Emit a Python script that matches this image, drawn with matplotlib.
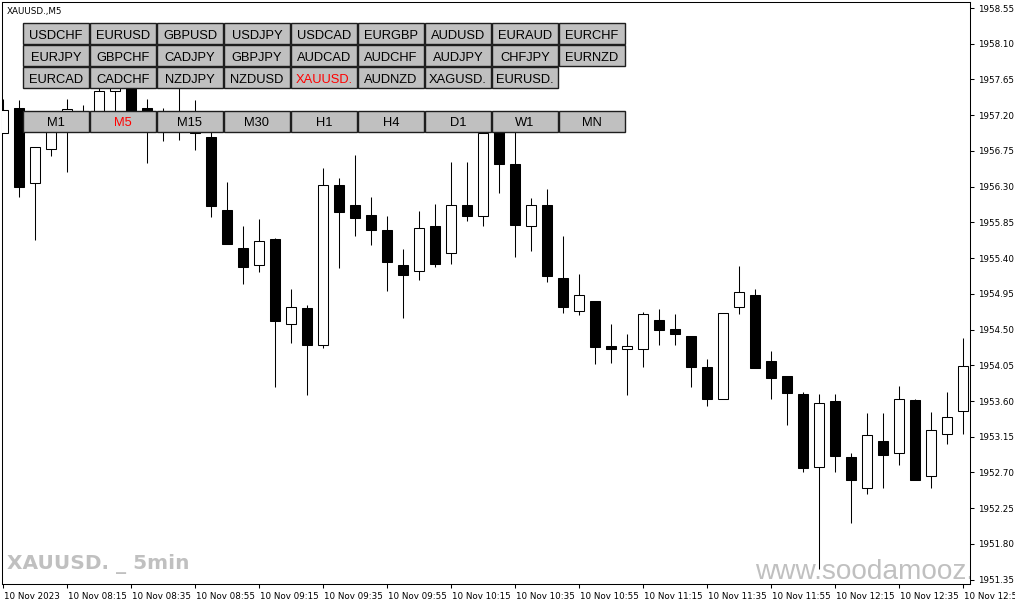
import matplotlib
matplotlib.use('Agg')
import matplotlib.pyplot as plt
from matplotlib.patches import Rectangle
from matplotlib.transforms import ScaledTranslation
from matplotlib import font_manager

# 5 minute candles, XAUUSD., 10 Nov 2023 (left to right)
opens = [1956.98, 1957.29, 1956.35, 1956.78, 1957.16, 1957.23, 1957.19, 1957.51, 1957.90, 1957.29,
         1957.09, 1957.19, 1957.09, 1956.93, 1956.01, 1955.53, 1955.31, 1955.64, 1954.57, 1954.77,
         1954.31, 1956.32, 1956.07, 1955.94, 1955.75, 1955.31, 1955.24, 1955.81, 1955.47, 1956.07,
         1955.93, 1957.08, 1956.58, 1955.81, 1956.07, 1955.15, 1954.73, 1954.86, 1954.29, 1954.26,
         1954.26, 1954.62, 1954.51, 1954.42, 1954.03, 1953.62, 1954.78, 1954.94, 1954.10, 1953.92,
         1953.69, 1952.77, 1953.60, 1952.90, 1952.50, 1953.10, 1952.94, 1953.61, 1952.66, 1953.19,
         1953.48]
highs = [1957.41, 1957.39, 1956.80, 1957.14, 1957.41, 1957.33, 1957.54, 1957.69, 1958.08, 1957.40,
         1957.29, 1957.59, 1957.39, 1957.04, 1956.36, 1955.80, 1955.89, 1955.65, 1955.01, 1954.81,
         1956.54, 1956.41, 1956.70, 1956.17, 1955.93, 1955.52, 1955.99, 1956.08, 1956.61, 1956.61,
         1957.04, 1957.16, 1957.11, 1956.16, 1956.27, 1955.68, 1955.20, 1954.86, 1954.57, 1954.45,
         1954.72, 1954.76, 1954.70, 1954.42, 1954.13, 1954.71, 1955.30, 1955.01, 1954.23, 1953.92,
         1953.71, 1953.69, 1953.69, 1952.95, 1953.45, 1953.45, 1953.79, 1953.63, 1953.46, 1953.71,
         1954.40]
lows = [1956.97, 1956.17, 1955.63, 1956.68, 1956.49, 1957.05, 1957.14, 1957.16, 1957.11, 1956.60,
        1956.88, 1956.89, 1956.76, 1955.92, 1955.58, 1955.07, 1955.22, 1953.78, 1954.33, 1953.68,
        1954.27, 1955.27, 1955.68, 1955.57, 1954.99, 1954.65, 1955.12, 1955.29, 1955.33, 1955.87,
        1955.80, 1956.22, 1955.41, 1955.49, 1955.10, 1954.71, 1954.68, 1954.07, 1954.08, 1953.67,
        1954.03, 1954.31, 1954.31, 1953.78, 1953.54, 1953.62, 1954.70, 1954.01, 1953.63, 1953.30,
        1952.71, 1951.49, 1952.70, 1952.07, 1952.43, 1952.51, 1952.79, 1952.60, 1952.51, 1953.06,
        1953.19]
closes = [1957.27, 1956.30, 1956.80, 1957.08, 1957.28, 1957.11, 1957.50, 1957.62, 1957.19, 1957.21,
          1957.19, 1957.09, 1956.98, 1956.06, 1955.58, 1955.29, 1955.62, 1954.61, 1954.79, 1954.31,
          1956.32, 1955.98, 1955.91, 1955.75, 1955.35, 1955.19, 1955.78, 1955.33, 1956.07, 1955.93,
          1956.98, 1956.58, 1955.82, 1956.07, 1955.17, 1954.78, 1954.93, 1954.28, 1954.25, 1954.29,
          1954.69, 1954.49, 1954.44, 1954.03, 1953.63, 1954.71, 1954.97, 1954.01, 1953.89, 1953.70,
          1952.76, 1953.58, 1952.91, 1952.61, 1953.17, 1952.92, 1953.62, 1952.60, 1953.24, 1953.40,
          1954.04]

time_labels = ['10 Nov 2023', '10 Nov 08:15', '10 Nov 08:35', '10 Nov 08:55', '10 Nov 09:15',
               '10 Nov 09:35', '10 Nov 09:55', '10 Nov 10:15', '10 Nov 10:35', '10 Nov 10:55',
               '10 Nov 11:15', '10 Nov 11:35', '10 Nov 11:55', '10 Nov 12:15', '10 Nov 12:35',
               '10 Nov 12:55']
price_ticks = [1958.55, 1958.10, 1957.65, 1957.20, 1956.75, 1956.30, 1955.85, 1955.40, 1954.95,
               1954.50, 1954.05, 1953.60, 1953.15, 1952.70, 1952.25, 1951.80, 1951.35]

symbols = [['USDCHF', 'EURUSD', 'GBPUSD', 'USDJPY', 'USDCAD', 'EURGBP', 'AUDUSD', 'EURAUD', 'EURCHF'],
           ['EURJPY', 'GBPCHF', 'CADJPY', 'GBPJPY', 'AUDCAD', 'AUDCHF', 'AUDJPY', 'CHFJPY', 'EURNZD'],
           ['EURCAD', 'CADCHF', 'NZDJPY', 'NZDUSD', 'XAUUSD.', 'AUDNZD', 'XAGUSD.', 'EURUSD.']]
timeframes = ['M1', 'M5', 'M15', 'M30', 'H1', 'H4', 'D1', 'W1', 'MN']
active = ['XAUUSD.', 'M5']

W, H = 1015, 605
fig = plt.figure(figsize=(W / 100, H / 100), dpi=100, facecolor='white')
ax = fig.add_axes([2 / W, (H - 584) / H, 968 / W, 582 / H])

x = list(range(len(opens)))
ax.vlines(x, lows, highs, color='black', linewidth=0.75, zorder=2)
for i in x:
    o, c = opens[i], closes[i]
    up = c >= o
    ax.bar(i, abs(c - o), bottom=min(o, c), width=0.62,
           color='white' if up else 'black', edgecolor='black', linewidth=0.75, zorder=3)

ax.set_xlim(-0.0625, 60.4375)
ax.set_ylim(1951.2956, 1958.6256)

ax.set_xticks(range(0, 61, 4))
ax.set_xticklabels(time_labels)
ax.yaxis.tick_right()
ax.set_yticks(price_ticks)
ax.set_yticklabels([f'{p:.2f}' for p in price_ticks])
ax.tick_params(axis='both', direction='out', length=3, width=0.75, labelsize=6.3, colors='black')
ax.tick_params(axis='x', pad=3)
ax.tick_params(axis='y', pad=2.5)
for lab in ax.get_xticklabels():
    lab.set_ha('left')
    lab.set_transform(lab.get_transform() + ScaledTranslation(1 / 100, 0, fig.dpi_scale_trans))
for sp in ax.spines.values():
    sp.set_linewidth(0.75)
    sp.set_color('black')

# title in the corner
fig.text(7 / W, 1 - 14 / H, 'XAUUSD.,M5', fontsize=6.3, va='baseline', ha='left')

# watermarks
names = {f.name for f in font_manager.fontManager.ttflist}
if 'Liberation Sans Narrow' in names:
    wm_family, wm_size = 'Liberation Sans Narrow', 19
else:
    wm_family, wm_size = 'DejaVu Sans', 14.5
fig.text(7 / W, 1 - 569.5 / H, 'XAUUSD. _ 5min', fontsize=wm_size, family=wm_family,
         fontweight='bold', color='#c0c0c0', va='baseline', ha='left')
ax.text(755 / W, 1 - 579 / H, 'www.soodamooz.com', transform=fig.transFigure, fontsize=20.2,
        family='Liberation Sans', color='#c0c0c0', va='baseline', ha='left', zorder=1, clip_on=True)


def button(x0, y0, w, h, label):
    fig.add_artist(Rectangle((x0 / W, 1 - (y0 + h) / H), w / W, h / H, transform=fig.transFigure,
                             facecolor='#c0c0c0', edgecolor='#1e1e1e', linewidth=1.0))
    fig.text((x0 + w / 2) / W, 1 - (y0 + h / 2 + 5.3) / H, label, fontsize=9.3,
             family='Liberation Sans', color='red' if label in active else 'black',
             ha='center', va='baseline')


row_tops = [23.3, 45.3, 67.0]
for r, row in enumerate(symbols):
    for i, s in enumerate(row):
        button(23.3 + 67 * i, row_tops[r], 65.3, 20.7, s)
for i, tf in enumerate(timeframes):
    button(23.3 + 67 * i, 110.7, 65.3, 21, tf)

fig.savefig('out.png', dpi=100)
